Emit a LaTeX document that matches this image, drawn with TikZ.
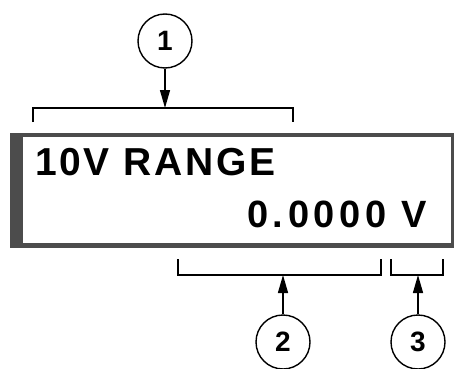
\documentclass[tikz,border=0pt]{standalone}
\usepackage{fontspec}
\setmainfont{Liberation Sans}
\newfontfamily\lcdfont[LetterSpace=7]{Liberation Sans}
\newfontfamily\lcdwide[LetterSpace=12]{Liberation Sans}
\usetikzlibrary{arrows.meta}

\begin{document}
\begin{tikzpicture}[line cap=butt,line join=miter,>={Triangle[length=18pt,width=10pt]},x=1pt,y=-1pt,
	callout/.style={draw,circle,line width=1.4pt,minimum size=54pt,inner sep=0pt,font=\fontsize{28}{28}\selectfont\bfseries},
	brace/.style={line width=1.4pt},
	lcd/.style={inner sep=0pt}]
				\useasboundingbox (0,0) rectangle (455,369);
				% display frame
				\fill [color=black!70] (10,133) rectangle (454,248);
				\fill [color=white] (23,137) rectangle (451,243);
				\node[lcd,anchor=base west,font=\lcdfont\bfseries] (range) at (35,175) {\fontsize{39}{39}\selectfont 10V RANGE};
				\node[lcd,anchor=base east,font=\lcdwide\bfseries] (value) at (427,227) {\fontsize{38}{38}\selectfont 0.0000 V};
				% brackets
				\draw [brace] (33,122)-- (33,108)-- (293,108)-- (293,122);
				\draw [brace] (178,259)-- (178,275)-- (381,275)-- (381,259);
				\draw [brace] (391,259)-- (391,275)-- (443,275)-- (443,259);
				\coordinate (b1) at (165,108);
				\coordinate (b2) at (283,275);
				\coordinate (b3) at (418,275);
				% callouts
				\node[callout] (c1) at (165,41) {1};
				\node[callout] (c2) at (283,342) {2};
				\node[callout] (c3) at (418,342) {3};
				\draw [->,line width=1.4pt] (c1)-- (b1);
				\draw [->,line width=1.4pt] (c2)-- (b2);
				\draw [->,line width=1.4pt] (c3)-- (b3);
			\end{tikzpicture}
\end{document}
